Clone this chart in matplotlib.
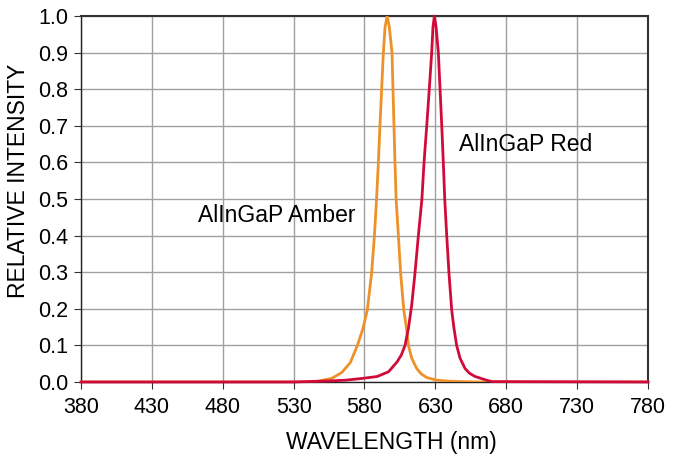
import matplotlib
matplotlib.use('Agg')
import matplotlib.pyplot as plt
import numpy as np

plt.rcParams['font.family'] = ['Liberation Sans', 'DejaVu Sans']

# 读取图上的数值
amber_wl = [380, 540, 547, 557, 564, 570, 575, 579, 582, 585, 587, 588.5, 589.8,
            590.9, 592.1, 593.3, 594.5, 596, 597.5, 599.4, 600.1, 600.8, 601.5,
            602.3, 603.9, 605.5, 607.7, 609.6, 611, 613.3, 616.8, 620, 624, 631,
            640, 660, 780]
amber_int = [0, 0, 0.002, 0.01, 0.026, 0.053, 0.10, 0.147, 0.197, 0.297, 0.40, 0.50,
             0.60, 0.70, 0.80, 0.90, 0.97, 1.0, 0.97, 0.90, 0.80, 0.70, 0.60, 0.50,
             0.40, 0.297, 0.197, 0.147, 0.10, 0.065, 0.037, 0.022, 0.012, 0.005,
             0.002, 0, 0]

red_wl = [380, 530, 556, 567, 579, 589, 597, 603, 606, 608.6, 611, 613.3, 615.6,
          618, 620.5, 622, 623.9, 625.7, 627.4, 628.3, 629.3, 630.5, 632.1, 633.3,
          634.5, 635.6, 636.6, 638, 639.6, 641.5, 643.1, 645, 647.4, 650.9, 654,
          658, 666, 670, 780]
red_int = [0, 0, 0.003, 0.005, 0.01, 0.015, 0.028, 0.055, 0.074, 0.10, 0.147, 0.21,
           0.297, 0.40, 0.50, 0.60, 0.70, 0.80, 0.90, 0.97, 1.0, 0.97, 0.90, 0.80,
           0.70, 0.60, 0.50, 0.40, 0.297, 0.197, 0.147, 0.10, 0.065, 0.037, 0.024,
           0.015, 0.005, 0.001, 0]

x_ticks = np.arange(380, 781, 50)
y_ticks = np.arange(0, 1.01, 0.1)

fig = plt.figure(figsize=(6.76, 4.59), dpi=100)
ax = fig.add_axes([0.1198, 0.1678, 0.9586 - 0.1198, 0.9651 - 0.1678])

ax.plot(amber_wl, amber_int, color='#EE9128', linewidth=2.0, zorder=3)
ax.plot(red_wl, red_int, color='#D20A3A', linewidth=2.0, zorder=4, clip_on=False)

ax.set_xlim(380, 780)
ax.set_ylim(0, 1.0)
ax.set_xticks(x_ticks)
ax.set_yticks(y_ticks)
ax.set_yticklabels(['%.1f' % v for v in y_ticks])
ax.grid(True, color='#a0a0a0', linewidth=1.0)
ax.set_axisbelow(True)

for side in ['left', 'bottom']:
    ax.spines[side].set_color('#222222')
    ax.spines[side].set_linewidth(1.0)
for side in ['top', 'right']:
    ax.spines[side].set_color('#333333')
    ax.spines[side].set_linewidth(1.5)

ax.tick_params(axis='both', labelsize=15.5, direction='out', length=5,
               color='#333333', pad=4)
ax.tick_params(axis='x', pad=6)

ax.set_xlabel('WAVELENGTH (nm)', fontsize=16.5, labelpad=9, x=0.548)
ax.set_ylabel('RELATIVE INTENSITY', fontsize=16.5, labelpad=6, y=0.549)

ax.text(518, 0.454, 'AlInGaP Amber', fontsize=16.5, ha='center', va='center')
ax.text(694, 0.648, 'AlInGaP Red', fontsize=16.5, ha='center', va='center')

plt.savefig('out.png', dpi=100)
